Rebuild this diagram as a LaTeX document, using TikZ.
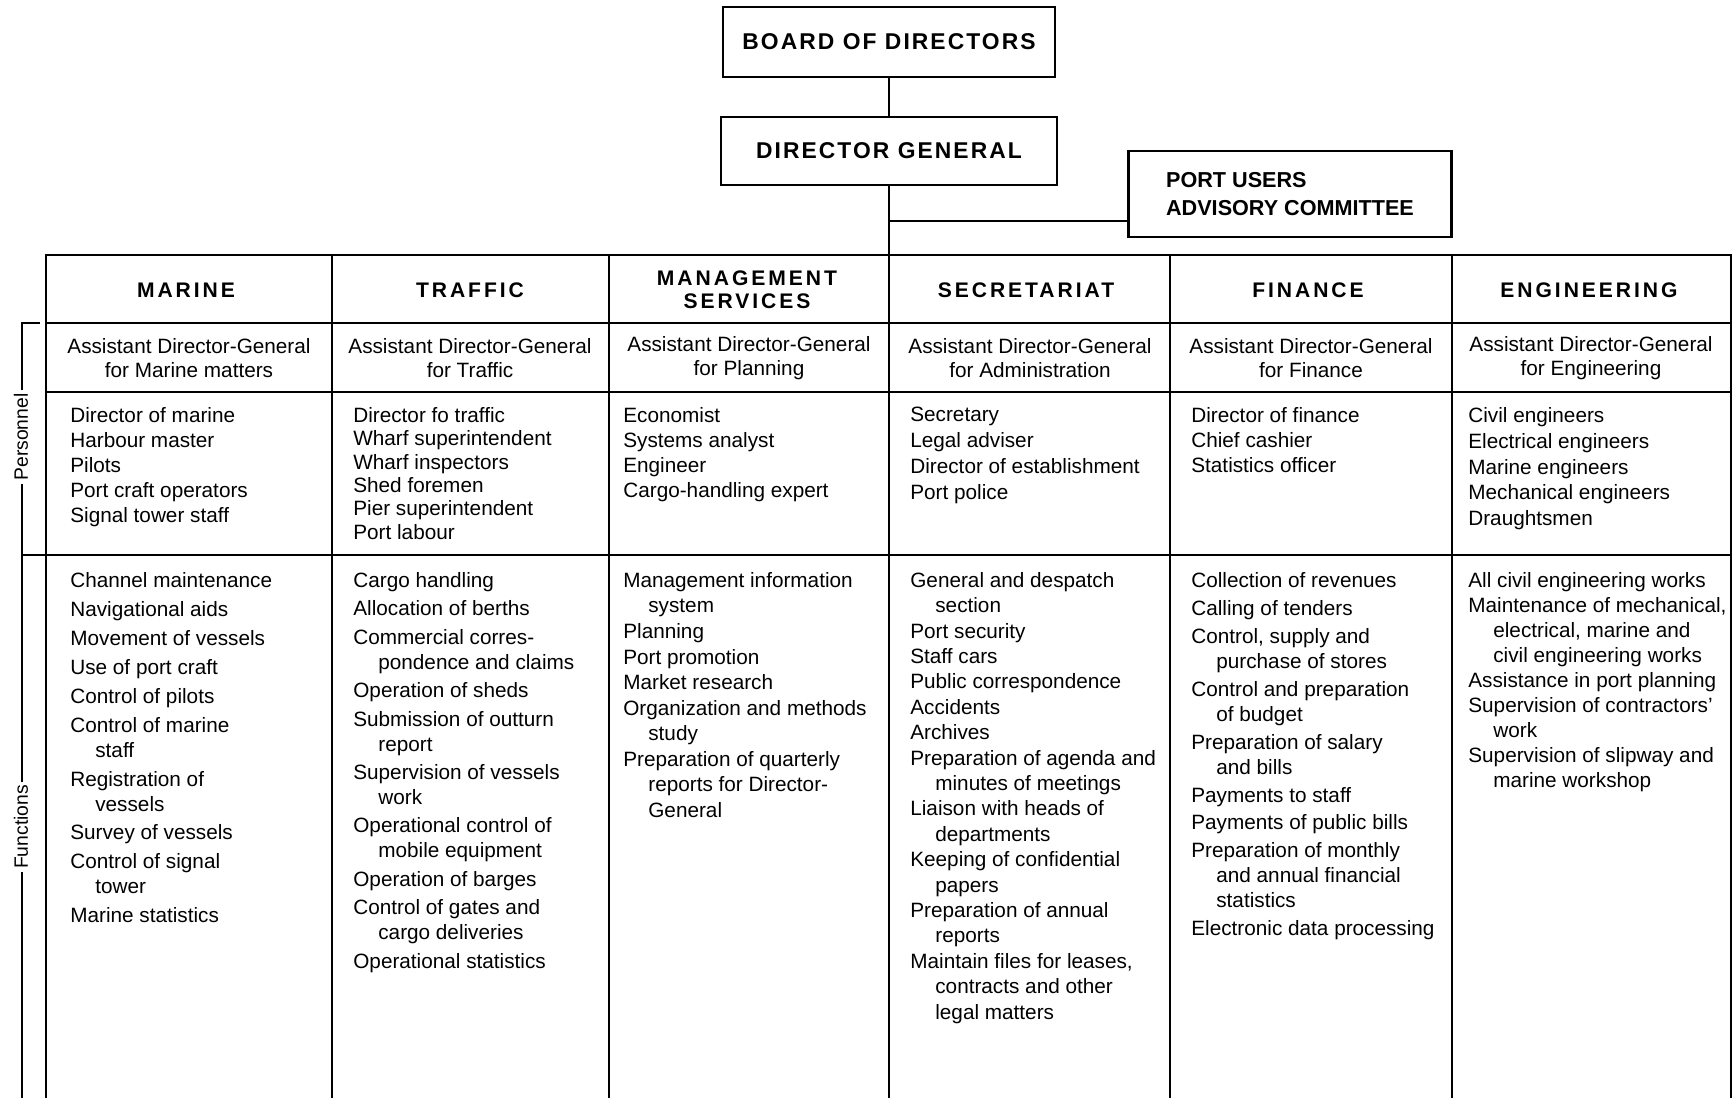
\documentclass[tikz,border=0pt]{standalone}
\usepackage{fontspec}
\setmainfont{Liberation Sans}
\newfontfamily\boxfont[LetterSpace=9]{Liberation Sans}
\newfontfamily\headfont[LetterSpace=14]{Liberation Sans}
\newcommand\cont{\\\hspace*{5mm}}

\begin{document}
\begin{tikzpicture}[
x=0.2mm,y=-0.2mm,
box/.style={draw,line width=1.4pt,inner sep=0pt,font=\boxfont\bfseries\fontsize{13}{15}\selectfont},
portbox/.style={draw,line width=1.4pt,inner sep=0pt,align=left,font=\bfseries\fontsize{12.3}{16.4}\selectfont},
conn/.style={line width=1.4pt},
grid/.style={line width=1.1pt},
head/.style={align=center,inner sep=0pt,font=\headfont\bfseries\fontsize{12}{13}\selectfont},
adg/.style={align=center,inner sep=0pt,font=\fontsize{11.8}{13.6}\selectfont},
list/.style={anchor=north west,align=left,inner sep=0pt,font=\fontsize{11.8}{14.2}\selectfont},
side/.style={rotate=90,fill=white,inner sep=2pt,font=\fontsize{11}{13}\selectfont}
]
\useasboundingbox (0,0) rectangle (1735,1098);
\node[box,minimum width=66.4mm,minimum height=14mm] (board) at (889,42) {BOARD OF DIRECTORS};
\node[box,minimum width=67.2mm,minimum height=13.6mm] (dg) at (889,151) {DIRECTOR GENERAL};
\node[portbox,minimum width=64.6mm,minimum height=17.2mm] (puac) at (1290,194) {PORT USERS\\ADVISORY COMMITTEE};
\coordinate (tabtop) at (889,255);
\coordinate (br) at (889,221);
\draw[conn] (board) -- (dg);
\draw[conn] (dg) -- (tabtop);
\draw[conn] (br) -- (br -| puac.west);
\draw[grid] (46,1098) -- (46,255) -- (1731,255) -- (1731,1098);
\draw[grid] (46,323) -- (1731,323);
\draw[grid] (46,392) -- (1731,392);
\draw[grid] (22,555) -- (1731,555);
\draw[grid] (332,255) -- (332,1098) (609,255) -- (609,1098) (889,255) -- (889,1098) (1170,255) -- (1170,1098) (1452,255) -- (1452,1098);
\draw[grid] (40,323) -- (22,323) -- (22,1098);
\node[side] (pers) at (21,437) {Personnel};
\node[side] (func) at (21,827) {Functions};
\node[head] (marine) at (186,290) {MARINE};
\node[head] (traffic) at (470,290) {TRAFFIC};
\node[head] (mgmt) at (747,290) {MANAGEMENT\\SERVICES};
\node[head] (secr) at (1026,290) {SECRETARIAT};
\node[head] (fin) at (1308,290) {FINANCE};
\node[head] (eng) at (1589,290) {ENGINEERING};
\node[adg] (adgmarine) at (189,358) {Assistant Director-General\\for Marine matters};
\node[adg] (adgtraffic) at (470,358) {Assistant Director-General\\for Traffic};
\node[adg] (adgmgmt) at (749,358) {Assistant Director-General\\for Planning};
\node[adg] (adgsecr) at (1030,358) {Assistant Director-General\\for Administration};
\node[adg] (adgfin) at (1311,358) {Assistant Director-General\\for Finance};
\node[adg] (adgeng) at (1591,358) {Assistant Director-General\\for Engineering};
\node[list] (persmarine) at (70,407) {Director of marine\\Harbour master\\Pilots\\Port craft operators\\Signal tower staff};
\node[list,font=\fontsize{11.8}{13.3}\selectfont] (perstraffic) at (353,407) {Director fo traffic\\Wharf superintendent\\Wharf inspectors\\Shed foremen\\Pier superintendent\\Port labour};
\node[list] (persmgmt) at (623,407) {Economist\\Systems analyst\\Engineer\\Cargo-handling expert};
\node[list,font=\fontsize{11.8}{14.8}\selectfont] (perssecr) at (910,407) {Secretary\\Legal adviser\\Director of establishment\\Port police};
\node[list] (persfin) at (1191,407) {Director of finance\\Chief cashier\\Statistics officer};
\node[list,font=\fontsize{11.8}{14.7}\selectfont] (perseng) at (1468,407) {Civil engineers\\Electrical engineers\\Marine engineers\\Mechanical engineers\\Draughtsmen};
\node[list] (funcmarine) at (70,572) {Channel maintenance\\[0.8mm]Navigational aids\\[0.8mm]Movement of vessels\\[0.8mm]Use of port craft\\[0.8mm]Control of pilots\\[0.8mm]Control of marine\cont staff\\[0.8mm]Registration of\cont vessels\\[0.8mm]Survey of vessels\\[0.8mm]Control of signal\cont tower\\[0.8mm]Marine statistics};
\node[list] (functraffic) at (353,572) {Cargo handling\\[0.7mm]Allocation of berths\\[0.7mm]Commercial corres-\cont pondence and claims\\[0.7mm]Operation of sheds\\[0.7mm]Submission of outturn\cont report\\[0.7mm]Supervision of vessels\cont work\\[0.7mm]Operational control of\cont mobile equipment\\[0.7mm]Operation of barges\\[0.7mm]Control of gates and\cont cargo deliveries\\[0.7mm]Operational statistics};
\node[list,font=\fontsize{11.8}{14.55}\selectfont] (funcmgmt) at (623,572) {Management information\cont system\\Planning\\Port promotion\\Market research\\Organization and methods\cont study\\Preparation of quarterly\cont reports for Director-\cont General};
\node[list,font=\fontsize{11.8}{14.45}\selectfont] (funcsecr) at (910,572) {General and despatch\cont section\\Port security\\Staff cars\\Public correspondence\\Accidents\\Archives\\Preparation of agenda and\cont minutes of meetings\\Liaison with heads of\cont departments\\Keeping of confidential\cont papers\\Preparation of annual\cont reports\\Maintain files for leases,\cont contracts and other\cont legal matters};
\node[list] (funcfin) at (1191,572) {Collection of revenues\\[0.6mm]Calling of tenders\\[0.6mm]Control, supply and\cont purchase of stores\\[0.6mm]Control and preparation\cont of budget\\[0.6mm]Preparation of salary\cont and bills\\[0.6mm]Payments to staff\\[0.6mm]Payments of public bills\\[0.6mm]Preparation of monthly\cont and annual financial\cont statistics\\[0.6mm]Electronic data processing};
\node[list] (funceng) at (1468,572) {All civil engineering works\\Maintenance of mechanical,\cont electrical, marine and\cont civil engineering works\\Assistance in port planning\\Supervision of contractors'\cont work\\Supervision of slipway and\cont marine workshop};
\end{tikzpicture}
\end{document}
